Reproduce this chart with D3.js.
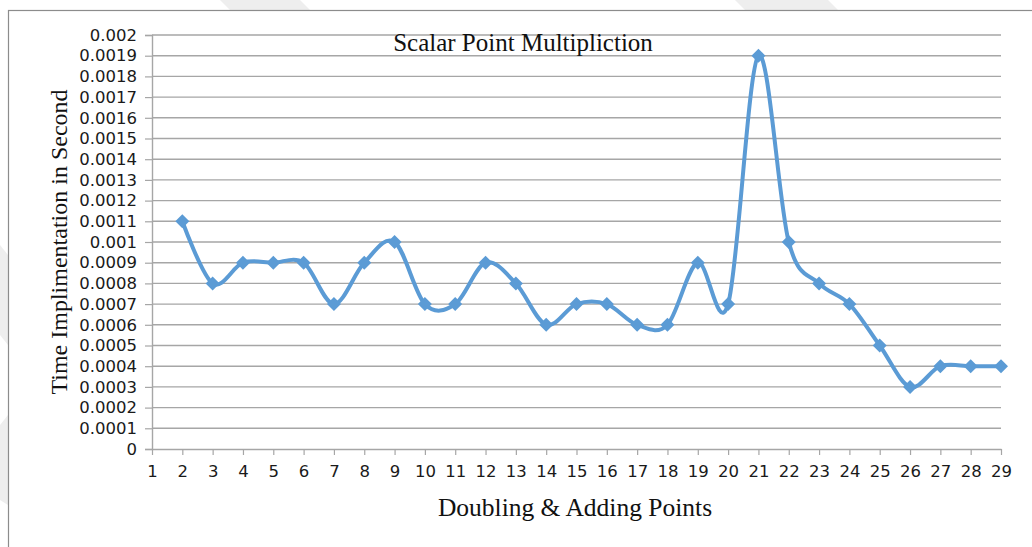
<!DOCTYPE html>
<html>
<head>
<meta charset="utf-8">
<script src="https://cdn.jsdelivr.net/npm/d3@7"></script>
<style>
  html, body { margin: 0; padding: 0; background: #ffffff; }
  svg { display: block; }
</style>
</head>
<body>
<svg id="chart" width="1032" height="547"></svg>
<script>
// Doubling & adding step numbers and the measured time for each step
const steps = [2, 3, 4, 5, 6, 7, 8, 9, 10, 11, 12, 13, 14, 15, 16, 17, 18, 19, 20, 21, 22, 23, 24, 25, 26, 27, 28, 29];
const seconds = [0.0011, 0.0008, 0.0009, 0.0009, 0.0009, 0.0007, 0.0009, 0.001, 0.0007, 0.0007, 0.0009, 0.0008, 0.0006, 0.0007, 0.0007, 0.0006, 0.0006, 0.0009, 0.0007, 0.0019, 0.001, 0.0008, 0.0007, 0.0005, 0.0003, 0.0004, 0.0004, 0.0004];
const xTicks = d3.range(1, 30);
const yTicks = d3.range(0, 21).map(i => +(i * 0.0001).toFixed(4));
const yTickLabels = yTicks.map(v => v === 0 ? "0" : String(v));

const titleText = "Scalar Point Multipliction";
const xTitle = "Doubling & Adding Points";
const yTitle = "Time Implimentation in Second";

const svg = d3.select("#chart");
const W = 1032, H = 547;
const plotLeft = 152, plotRight = 1001, plotTop = 35, plotBottom = 449;

// faint page decoration outside the chart frame
const deco = svg.append("g").attr("fill", "#eeeeee");
deco.append("path").attr("d", "M735,0 L828,0 L838,10 L745,10 Z");
deco.append("path").attr("d", "M220,0 L300,0 L310,10 L230,10 Z");
deco.append("path").attr("d", "M0,245 L8,255 L8,345 L0,335 Z");
deco.append("path").attr("d", "M0,425 L8,415 L8,505 L0,500 Z");

// chart frame
svg.append("rect")
  .attr("x", 8.5).attr("y", 10.5)
  .attr("width", W).attr("height", H)
  .attr("fill", "#ffffff")
  .attr("stroke", "#8c8c8c").attr("stroke-width", 1.2);

const x = d3.scaleLinear().domain([1, 29]).range([plotLeft, plotRight]);
const y = d3.scaleLinear().domain([0, 0.002]).range([plotBottom, plotTop]);

// horizontal gridlines
svg.append("g")
  .selectAll("line")
  .data(yTicks.filter(v => v > 0))
  .join("line")
  .attr("x1", plotLeft).attr("x2", plotRight)
  .attr("y1", d => y(d)).attr("y2", d => y(d))
  .attr("stroke", "#a6a6a6").attr("stroke-width", 1.4);

// y axis
const yAxis = svg.append("g")
  .attr("transform", `translate(${plotLeft},0)`)
  .call(d3.axisLeft(y).tickValues(yTicks).tickFormat((d, i) => yTickLabels[i]).tickSize(7).tickPadding(8));
yAxis.select(".domain").attr("stroke", "#a6a6a6").attr("stroke-width", 1.4);
yAxis.selectAll(".tick line").attr("stroke", "#a6a6a6").attr("stroke-width", 1.2);
yAxis.selectAll(".tick text")
  .attr("fill", "#1a1a1a")
  .style("font-family", "'DejaVu Sans', sans-serif")
  .style("font-size", "16.5px");

// x axis
const xAxis = svg.append("g")
  .attr("transform", `translate(0,${plotBottom})`)
  .call(d3.axisBottom(x).tickValues(xTicks).tickFormat(d3.format("d")).tickSize(6).tickSizeOuter(0).tickPadding(10));
xAxis.select(".domain").attr("stroke", "#a6a6a6").attr("stroke-width", 1.4);
xAxis.selectAll(".tick line").attr("stroke", "#a6a6a6").attr("stroke-width", 1.2);
xAxis.selectAll(".tick text")
  .attr("fill", "#1a1a1a")
  .style("font-family", "'DejaVu Sans', sans-serif")
  .style("font-size", "16.5px");

// series line
const pts = steps.map((s, i) => [s, seconds[i]]);
const line = d3.line()
  .x(d => x(d[0]))
  .y(d => y(d[1]))
  .curve(d3.curveCardinal.tension(0));

svg.append("path")
  .datum(pts)
  .attr("d", line)
  .attr("fill", "none")
  .attr("stroke", "#5b9bd5")
  .attr("stroke-width", 4)
  .attr("stroke-linejoin", "round");

// diamond markers
svg.append("g")
  .selectAll("path")
  .data(pts)
  .join("path")
  .attr("transform", d => `translate(${x(d[0])},${y(d[1])})`)
  .attr("d", "M0,-7 L7,0 L0,7 L-7,0 Z")
  .attr("fill", "#5b9bd5");

// titles
svg.append("text")
  .attr("x", 523).attr("y", 51)
  .attr("text-anchor", "middle")
  .style("font-family", "'Liberation Serif', 'Times New Roman', serif")
  .style("font-size", "25px")
  .attr("fill", "#111")
  .text(titleText);

svg.append("text")
  .attr("x", 575).attr("y", 516)
  .attr("text-anchor", "middle")
  .style("font-family", "'Liberation Serif', 'Times New Roman', serif")
  .style("font-size", "25.5px")
  .attr("fill", "#111")
  .text(xTitle);

svg.append("text")
  .attr("transform", "translate(67,242) rotate(-90)")
  .attr("text-anchor", "middle")
  .style("font-family", "'Liberation Serif', 'Times New Roman', serif")
  .style("font-size", "24px")
  .attr("fill", "#111")
  .text(yTitle);
</script>
</body>
</html>
